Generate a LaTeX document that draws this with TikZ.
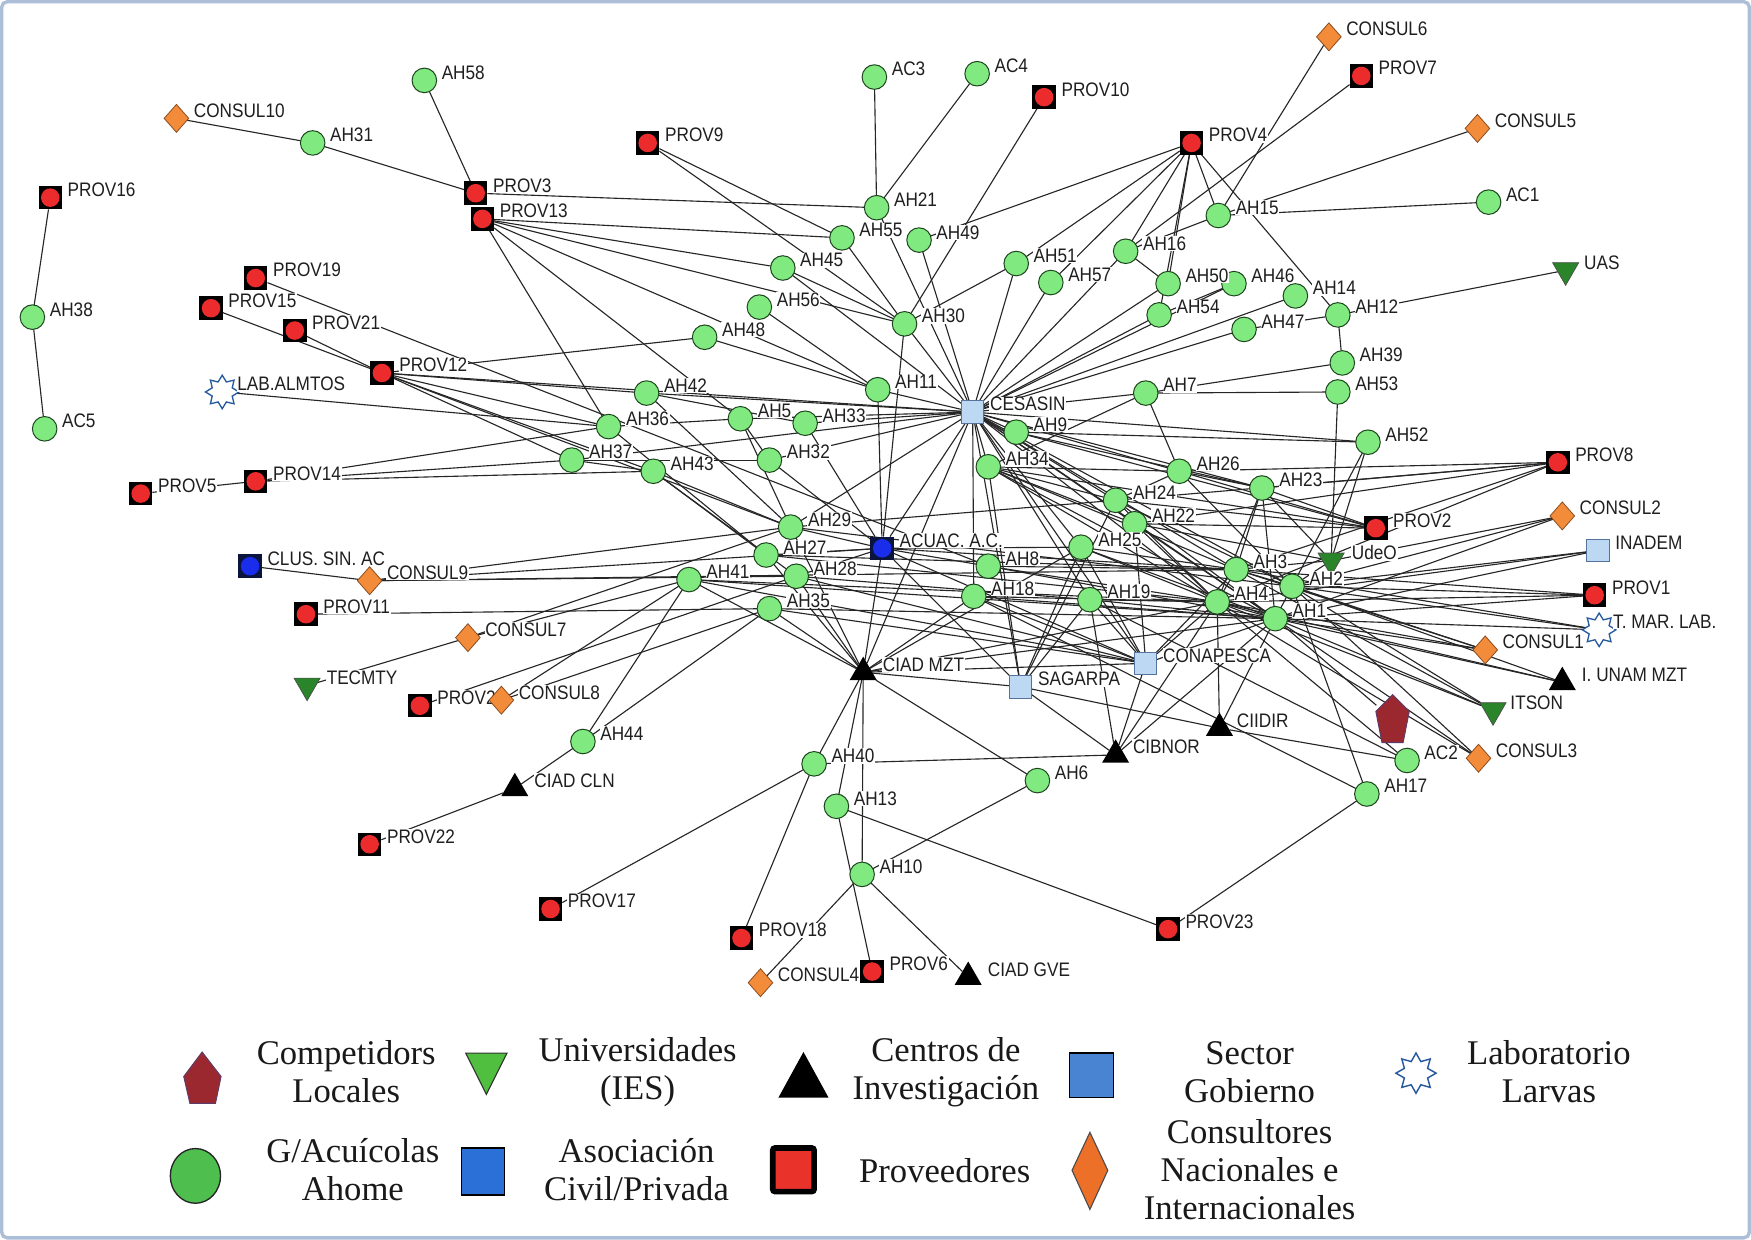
\documentclass[tikz,border=0pt]{standalone}
\usepackage{fontspec}
\setmainfont{Liberation Serif}
\newfontfamily\lblfont[FakeStretch=0.88]{Liberation Sans}
\usetikzlibrary{shapes.geometric}
\definecolor{ahfill}{RGB}{128,234,128}
\definecolor{ahline}{RGB}{30,70,30}
\definecolor{provred}{RGB}{236,44,44}
\definecolor{asocblue}{RGB}{25,45,235}
\definecolor{asocsq}{RGB}{10,20,60}
\definecolor{consulfill}{RGB}{242,140,58}
\definecolor{consulline}{RGB}{140,75,30}
\definecolor{govfill}{RGB}{188,216,242}
\definecolor{govline}{RGB}{85,115,155}
\definecolor{univfill}{RGB}{42,132,42}
\definecolor{labblue}{RGB}{40,90,160}
\definecolor{compfill}{RGB}{155,40,46}
\definecolor{compline}{RGB}{90,60,110}
\definecolor{framec}{RGB}{172,190,216}
\definecolor{ahleg}{RGB}{78,190,78}
\definecolor{univleg}{RGB}{80,190,62}
\definecolor{govleg}{RGB}{72,132,210}
\definecolor{asocleg}{RGB}{42,112,214}
\definecolor{provleg}{RGB}{232,50,42}
\definecolor{consleg}{RGB}{236,112,40}
\pgfdeclarelayer{bg}
\pgfsetlayers{bg,main}
\tikzset{
  every node/.style={inner sep=0pt, outer sep=0pt},
  ah/.style={circle, minimum size=22pt, fill=ahfill, draw=ahline, line width=0.9pt},
  prov/.style={rectangle, minimum size=21pt, fill=black,
    path picture={\fill[provred] (path picture bounding box.center) circle (8.3pt);}},
  asoc/.style={rectangle, minimum size=21pt, fill=asocsq,
    path picture={\fill[asocblue] (path picture bounding box.center) circle (8.3pt);}},
  consul/.style={diamond, minimum width=22pt, minimum height=25pt, fill=consulfill, draw=consulline, line width=0.7pt},
  gov/.style={rectangle, minimum size=20pt, fill=govfill, draw=govline, line width=0.8pt},
  res/.style={regular polygon, regular polygon sides=3, minimum size=28pt, fill=black},
  univ/.style={regular polygon, regular polygon sides=3, shape border rotate=180, minimum size=27pt, fill=univfill, draw=black!70, line width=0.6pt},
  labst/.style={star, star points=8, star point ratio=1.55, minimum size=30pt, draw=labblue, fill=white, line width=1.2pt},
  lbl/.style={font=\lblfont\fontsize{17.5}{19}\selectfont, fill=white, inner sep=0.6pt, text=black!88},
  edge/.style={draw=black!85, line width=1pt},
  legtxt/.style={font=\fontsize{31}{34}\selectfont, align=center, text=black!90}
}
\newcommand\nd[6][15]{\node[#2] (#3) at (#4,#5) {};\node[lbl,anchor=west] (#3l) at ({#4+#1},{#5-7}) {#6};}
\begin{document}
\begin{tikzpicture}[x=1pt,y=-1pt]
\useasboundingbox (0,0) rectangle (1568,1110);
\begin{pgfonlayer}{bg}
\fill[white] (0,0) rectangle (1568,1110);
\end{pgfonlayer}
% ---- nodes ----
\nd{ah}{ac3}{783}{69}{AC3}
\nd{ah}{ac4}{875}{66}{AC4}
\nd{prov}{p10}{935}{87}{PROV10}
\nd{consul}{c6}{1190}{33}{CONSUL6}
\nd{prov}{p7}{1219}{68}{PROV7}
\nd{consul}{c5}{1323}{115}{CONSUL5}
\nd{prov}{p4}{1067}{128}{PROV4}
\nd{ah}{ac1}{1333}{181}{AC1}
\nd{ah}{ah15}{1091}{193}{AH15}
\nd{ah}{ah16}{1008}{225}{AH16}
\nd[16]{univ}{uas}{1402}{242}{UAS}
\nd{ah}{ah46}{1105}{254}{AH46}
\nd{ah}{ah50}{1046}{254}{AH50}
\nd{ah}{ah14}{1160}{265}{AH14}
\nd{ah}{ah54}{1038}{282}{AH54}
\nd{ah}{ah12}{1198}{282}{AH12}
\nd{ah}{ah47}{1114}{295}{AH47}
\nd{ah}{ah39}{1202}{325}{AH39}
\nd{ah}{ah53}{1198}{351}{AH53}
\nd{ah}{ah7}{1026}{352}{AH7}
\nd{ah}{ah51}{910}{236}{AH51}
\nd{ah}{ah57}{941}{253}{AH57}
\nd{ah}{ah49}{823}{215}{AH49}
\nd{ah}{ah21}{785}{186}{AH21}
\nd{ah}{ah55}{754}{213}{AH55}
\nd{ah}{ah45}{701}{240}{AH45}
\nd{ah}{ah56}{680}{275}{AH56}
\nd{ah}{ah30}{810}{290}{AH30}
\nd{ah}{ah48}{631}{302}{AH48}
\nd{ah}{ah11}{786}{349}{AH11}
\nd{prov}{p9}{580}{128}{PROV9}
\nd{ah}{ah58}{380}{72}{AH58}
\nd{consul}{c10}{158}{106}{CONSUL10}
\nd{ah}{ah31}{280}{128}{AH31}
\nd{prov}{p3}{426}{173}{PROV3}
\nd{prov}{p13}{432}{196}{PROV13}
\nd{prov}{p16}{45}{177}{PROV16}
\nd{ah}{ah38}{29}{284}{AH38}
\nd{ah}{ac5}{40}{384}{AC5}
\nd{prov}{p19}{229}{249}{PROV19}
\nd{prov}{p15}{189}{276}{PROV15}
\nd{prov}{p21}{264}{296}{PROV21}
\nd{prov}{p12}{342}{334}{PROV12}
\nd[13]{labst}{lab}{199}{351}{LAB.ALMTOS}
\nd{ah}{ah42}{579}{352}{AH42}
\nd{ah}{ah36}{545}{382}{AH36}
\nd{ah}{ah5}{663}{375}{AH5}
\nd{ah}{ah33}{721}{379}{AH33}
\nd{gov}{cesasin}{871}{369}{CESASIN}
\nd{ah}{ah9}{910}{387}{AH9}
\nd{ah}{ah34}{885}{418}{AH34}
\nd{ah}{ah37}{512}{412}{AH37}
\nd{ah}{ah43}{585}{422}{AH43}
\nd{ah}{ah32}{689}{412}{AH32}
\nd{prov}{p5}{126}{442}{PROV5}
\nd{prov}{p14}{229}{431}{PROV14}
\nd{ah}{ah52}{1225}{396}{AH52}
\nd{ah}{ah26}{1056}{422}{AH26}
\nd{ah}{ah23}{1130}{437}{AH23}
\nd{prov}{p8}{1395}{414}{PROV8}
\nd{ah}{ah24}{999}{448}{AH24}
\nd{ah}{ah22}{1016}{469}{AH22}
\nd{consul}{c2}{1399}{462}{CONSUL2}
\nd{prov}{p2}{1232}{473}{PROV2}
\nd{ah}{ah29}{708}{472}{AH29}
\nd{asoc}{acuac}{790}{491}{ACUAC. A.C.}
\nd{ah}{ah25}{968}{490}{AH25}
\nd{ah}{ah27}{686}{497}{AH27}
\nd[18]{univ}{udeo}{1192}{502}{UdeO}
\nd{gov}{inadem}{1431}{493}{INADEM}
\nd{ah}{ah8}{885}{507}{AH8}
\nd{ah}{ah3}{1107}{510}{AH3}
\nd{asoc}{clus}{224}{507}{CLUS. SIN. AC}
\nd{consul}{c9}{331}{520}{CONSUL9}
\nd{ah}{ah41}{617}{519}{AH41}
\nd{ah}{ah28}{713}{516}{AH28}
\nd{ah}{ah2}{1157}{525}{AH2}
\nd{prov}{p1}{1428}{533}{PROV1}
\nd{ah}{ah18}{872}{534}{AH18}
\nd{ah}{ah19}{976}{537}{AH19}
\nd{ah}{ah4}{1090}{539}{AH4}
\nd{ah}{ah35}{689}{545}{AH35}
\nd{prov}{p11}{274}{550}{PROV11}
\nd{ah}{ah1}{1142}{554}{AH1}
\nd[12]{labst}{tmar}{1432}{564}{T. MAR. LAB.}
\nd{consul}{c7}{419}{571}{CONSUL7}
\nd{consul}{c1}{1330}{582}{CONSUL1}
\nd{gov}{conapesca}{1026}{594}{CONAPESCA}
\nd[17]{res}{ciadmzt}{773}{602}{CIAD MZT}
\nd[17]{res}{unam}{1399}{611}{I. UNAM MZT}
\nd{gov}{sagarpa}{914}{615}{SAGARPA}
\nd[17]{univ}{tecmty}{275}{614}{TECMTY}
\nd{prov}{p20}{376}{632}{PROV20}
\nd{consul}{c8}{449}{627}{CONSUL8}
\nd{univ}{itson}{1337}{636}{ITSON}
\node[minimum width=29pt, minimum height=42pt] (comp) at (1247,644) {};
\filldraw[fill=compfill, draw=compline, line width=0.8pt] (1247,622) -- (1262,637) -- (1256.5,665) -- (1237.5,665) -- (1232,637) -- cycle;
\nd{res}{ciidir}{1092}{652}{CIIDIR}
\nd{ah}{ah44}{522}{664}{AH44}
\nd{res}{cibnor}{999}{676}{CIBNOR}
\nd{ah}{ac2}{1260}{681}{AC2}
\nd{consul}{c3}{1324}{679}{CONSUL3}
\nd{ah}{ah40}{729}{684}{AH40}
\nd{ah}{ah6}{929}{699}{AH6}
\nd[17]{res}{ciadcln}{461}{706}{CIAD CLN}
\nd{ah}{ah17}{1224}{711}{AH17}
\nd{ah}{ah13}{749}{722}{AH13}
\nd{prov}{p22}{331}{756}{PROV22}
\nd{ah}{ah10}{772}{783}{AH10}
\nd{prov}{p17}{493}{814}{PROV17}
\nd{prov}{p23}{1046}{832}{PROV23}
\nd{prov}{p18}{664}{840}{PROV18}
\nd{prov}{p6}{781}{870}{PROV6}
\nd[17]{res}{ciadgve}{867}{875}{CIAD GVE}
\nd{consul}{c4}{681}{880}{CONSUL4}
% ---- edges ----
\begin{pgfonlayer}{bg}
\foreach \a/\b in {p16/ah38, ah38/ac5, c10/ah31, ah31/p3, ah58/p3, p3/ah21,
 p13/ah55, p13/ah45, p13/ah30, p13/ah11, p13/ah5, p13/ah36,
 p9/ah55, p9/ah30, ac3/ah21, ac4/ah21, p10/ah30,
 p4/ah49, p4/ah51, p4/ah57, p4/ah16, p4/ah50, p4/ah54, p4/ah15, p4/ah12,
 c6/ah15, p7/ah16, c5/ah15, ah15/ac1, ah15/ah16, uas/ah12, ah12/ah39, ah47/ah12,
 ah7/ah39, ah7/ah53, ah53/udeo, ah16/ah50, ah54/ah46,
 ah45/ah30, ah45/cesasin, ah56/ah11, ah48/ah11, ah55/ah30, ah21/cesasin, ah49/cesasin,
 ah30/cesasin, ah30/acuac, ah30/ah51, ah11/cesasin,
 ah51/cesasin, ah57/cesasin, ah16/cesasin, ah50/cesasin, ah54/cesasin, ah46/cesasin,
 ah47/cesasin, ah14/cesasin, ah7/cesasin,
 cesasin/ah9, cesasin/ah34, cesasin/ah33, cesasin/ah5, cesasin/ah42, cesasin/ah32,
 cesasin/ah29, cesasin/acuac, cesasin/p12, cesasin/ah25, cesasin/ah24, cesasin/ah22,
 cesasin/ah26, cesasin/ah3, cesasin/ah2, cesasin/ah1, cesasin/ah4, cesasin/ah18,
 cesasin/conapesca, cesasin/sagarpa, cesasin/ciadmzt, cesasin/ah52, cesasin/ah23, cesasin/ah19,
 cesasin/ah37, ah34/ah7, ah7/ah26,
 lab/ah36, p12/ah48, p12/ah42, p12/ah36, p12/ah43, p12/ah29, p12/ah37, p21/p12, p15/p12, p19/ah8,
 p5/p14, p14/ah36, p14/ah37, p14/ah43,
 ah42/ah33, ah42/ah29, ah36/ah5, ah36/ah27, ah37/ah43, ah37/ah32, ah43/ah29, ah43/ah27,
 ah43/ah28, ah5/ah32, ah5/ah29, ah33/acuac, ah32/acuac,
 ah29/acuac, ah27/acuac, ah28/acuac, acuac/ah8, acuac/ciadmzt, acuac/ah11, acuac/conapesca,
 acuac/sagarpa, acuac/ah3, acuac/ah25,
 c9/ah29, c9/acuac, c9/ah28, c9/ah3, clus/c9, p11/ah35, tecmty/c7, c7/ah41, c7/ah29,
 p20/ah28, c8/ah35, c8/ah41, ah44/ah35, ah44/ah41, ciadcln/ah44, p22/ciadcln,
 ah41/ciadmzt, ah35/ciadmzt, ah27/ciadmzt, ah28/ciadmzt, ah29/ciadmzt, ah41/ah1, ah41/ah4,
 ah41/conapesca, ah27/ah4, ah27/ah3, ah29/ah2, ah29/ah24, ah28/conapesca, ah35/ah1,
 ah35/conapesca, ah28/ah19,
 ciadmzt/ah40, ciadmzt/ah13, ciadmzt/ah10, ciadmzt/ah6, ciadmzt/sagarpa, ciadmzt/ah25,
 ciadmzt/ah1, ciadmzt/ah4, ciadmzt/conapesca, ciadmzt/ah18,
 ah40/p17, ah40/p18, ah40/cibnor, ah13/p6, ah13/p23, ah10/c4, ah10/ciadgve, ah6/ah10,
 p23/ah17, ah18/ah17, ah2/ah17,
 sagarpa/ah25, sagarpa/ah24, sagarpa/ciidir, sagarpa/cibnor, sagarpa/ah34, sagarpa/ah19,
 cibnor/ah4, cibnor/ah19, cibnor/ah1, cibnor/conapesca, ciidir/ah4, ciidir/ah1, ciidir/ac2,
 conapesca/ah4, conapesca/ah1, conapesca/ah19, conapesca/ah25, conapesca/ah22, conapesca/ah3,
 ah19/ac2, ah4/ac2, ah1/comp,
 ah1/c3, ah4/c3, ah2/c3, ah1/itson, ah2/itson, ah4/itson, ah3/itson, ah1/unam, ah2/unam,
 ah4/unam, ah1/c1, ah2/c1, ah4/c1, ah3/c1, ah1/tmar, ah2/tmar, ah3/tmar, ah1/p1, ah2/p1,
 ah4/p1, ah3/p1, ah2/inadem, ah1/inadem, ah4/inadem, ah2/c2, ah1/c2, udeo/c2,
 p8/ah23, p8/ah24, p8/ah3, p8/ah4, p8/ah22, p8/ah26, p2/ah26, p2/ah23, p2/ah24, p2/ah22,
 p2/ah34, p2/ah9,
 udeo/ah2, udeo/ah3, udeo/ah23, udeo/ah52, udeo/ah22, ah52/ah2, ah9/ah52, ah26/ah34,
 ah26/ah24, ah26/ah23, ah9/ah23,
 ah34/ah24, ah34/ah22, ah34/ah1, ah34/ah4, ah34/ah3, ah24/ah4, ah24/ah1, ah24/ah2,
 ah22/ah4, ah22/ah1, ah25/ah4, ah25/ah1, ah25/ah3, ah19/ah4, ah19/ah1, ah8/ah4, ah8/ah1,
 ah8/ah3, ah18/ah4, ah18/conapesca, ah18/ah1, ah3/ah4, ah3/ah2, ah4/ah1, ah2/ah1,
 ah23/ah3, ah23/ah1, ah23/ah4, ah26/ah2}
 {\draw[edge] (\a) -- (\b);}
\end{pgfonlayer}
% ---- legend ----
\filldraw[fill=compfill, draw=compline, line width=0.8pt] (181,942) -- (198,964) -- (193,988) -- (170,988) -- (164.5,964) -- cycle;
\node[legtxt] (lt1) at (310,960) {Competidors\\Locales};
\filldraw[fill=univleg, draw=black!80, line width=1pt] (417,943) -- (454,943) -- (435.5,980) -- cycle;
\node[legtxt] (lt2) at (571,960) {Universidades\\(IES)};
\fill[black] (697,983) -- (742,983) -- (719.5,942) -- cycle;
\node[legtxt] (lt3) at (847,960) {Centros de\\Investigación};
\filldraw[fill=govleg, draw=black, line width=1.2pt] (958,943) rectangle (997,983);
\node[legtxt] (lt4) at (1119,960) {Sector\\Gobierno};
\node[star, star points=8, star point ratio=1.6, minimum size=36pt, draw=labblue, fill=white, line width=1.3pt] (lsym5) at (1268,961) {};
\node[legtxt] (lt5) at (1387,960) {Laboratorio\\Larvas};
\filldraw[fill=ahleg, draw=black!85, line width=1.2pt] (175,1053) ellipse (22.5pt and 24.5pt);
\node[legtxt] (lt6) at (316,1047) {G/Acuícolas\\Ahome};
\filldraw[fill=asocleg, draw=black, line width=1.2pt] (413,1028) rectangle (452,1070);
\node[legtxt] (lt7) at (570,1047) {Asociación\\Civil/Privada};
\filldraw[fill=provleg, draw=black, line width=5pt, rounded corners=2pt] (692,1028) rectangle (729,1067);
\node[legtxt] (lt8) at (846,1048) {Proveedores};
\filldraw[fill=consleg, draw=black!70, line width=1pt] (976,1014) -- (992,1048) -- (976,1083) -- (960,1048) -- cycle;
\node[legtxt] (lt9) at (1119,1047) {Consultores\\Nacionales e\\Internacionales};
% frame
\draw[framec, line width=3pt, rounded corners=5pt] (1.5,1.5) rectangle (1566.5,1108.5);
\end{tikzpicture}
\end{document}
